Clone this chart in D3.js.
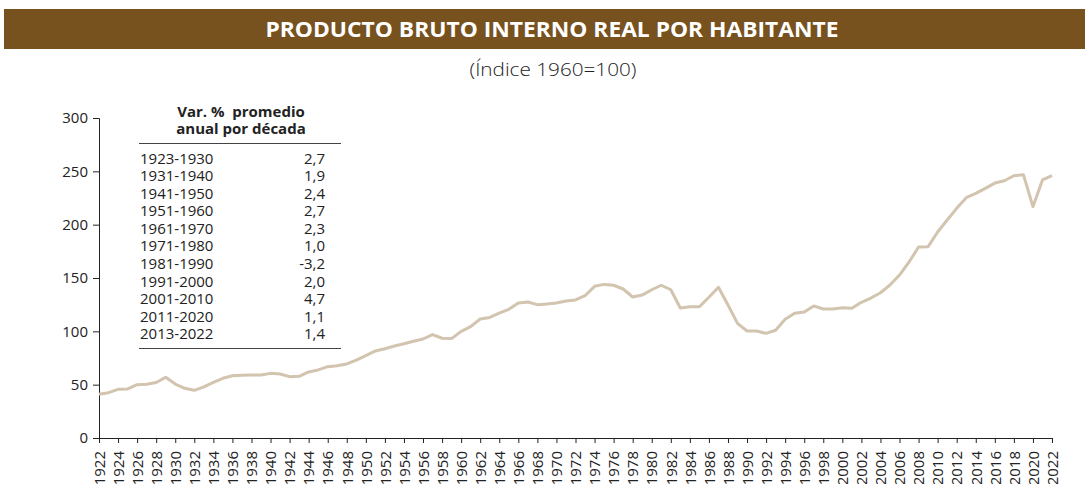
<!DOCTYPE html>
<html>
<head>
<meta charset="utf-8">
<script src="https://cdn.jsdelivr.net/npm/d3@7"></script>
<style>
  body { margin: 0; background: #fff; }
  svg { display: block; font-family: "Open Sans", "DejaVu Sans", sans-serif; }
</style>
</head>
<body>
<svg id="chart"></svg>
<script>
var years = d3.range(1922, 2023);
var values = [
  41, 42.5, 45.6, 46, 50, 50.3, 52, 57, 50.6,
  46.6, 44.7, 48, 52.2, 56, 58.4, 58.8, 59, 59, 60.6,
  60, 57.5, 57.8, 61.9, 63.8, 66.9, 67.8, 69.4, 73, 77.2,
  81.6, 83.7, 86.3, 88.4, 90.7, 92.8, 97, 93.5, 93.2, 100,
  104.4, 111.6, 113, 117, 120.6, 126.6, 127.5, 125, 125.6, 126.6,
  128.4, 129.4, 133.4, 142.2, 144, 143.2, 139.7, 132.2, 134, 139,
  143.2, 139, 121.9, 123.1, 123, 131.9, 141.3, 124.7, 107.5, 100.3,
  100.3, 98.1, 101, 111.3, 116.9, 118.1, 123.8, 120.9, 120.9, 122.2,
  121.6, 127.2, 131.2, 136.2, 143.4, 152.8, 165, 179, 179.4, 193.1,
  204.4, 215.3, 225.3, 229.4, 234, 239, 241.2, 245.9, 246.9, 216.9,
  241.9, 245.9
];
var periods = ["1923-1930", "1931-1940", "1941-1950", "1951-1960", "1961-1970",
  "1971-1980", "1981-1990", "1991-2000", "2001-2010", "2011-2020", "2013-2022"];
var rates = ["2,7", "1,9", "2,4", "2,7", "2,3", "1,0", "-3,2", "2,0", "4,7", "1,1", "1,4"];
var yTicks = [0, 50, 100, 150, 200, 250, 300];

var width = 1085, height = 484;
var svg = d3.select("#chart").attr("width", width).attr("height", height);

// title band
svg.append("rect")
  .attr("x", 4).attr("y", 9).attr("width", width - 4).attr("height", 40)
  .attr("fill", "#77521f");
svg.append("text")
  .attr("x", 552).attr("y", 37)
  .attr("text-anchor", "middle")
  .attr("fill", "#fff")
  .attr("textLength", 573).attr("lengthAdjust", "spacingAndGlyphs")
  .style("font-weight", "bold")
  .style("font-size", "21px")
  .text("PRODUCTO BRUTO INTERNO REAL POR HABITANTE");
svg.append("text")
  .attr("x", 553).attr("y", 76)
  .attr("text-anchor", "middle")
  .attr("fill", "#222")
  .attr("textLength", 167).attr("lengthAdjust", "spacingAndGlyphs")
  .style("font-weight", "300")
  .style("font-size", "19px")
  .text("(Índice 1960=100)");

var x = d3.scaleLinear().domain([1922, 2022]).range([99, 1052]);
var y = d3.scaleLinear().domain([0, 300]).range([438, 118]);

var yAxis = svg.append("g")
  .attr("transform", "translate(99,0)")
  .call(d3.axisLeft(y).tickValues(yTicks).tickSize(6).tickPadding(5));
var xAxis = svg.append("g")
  .attr("transform", "translate(0,438)")
  .call(d3.axisBottom(x).tickValues(years.filter(d => d % 2 === 0)).tickFormat(d3.format("d")).tickSize(5));

xAxis.selectAll("text")
  .attr("transform", "rotate(-90)")
  .attr("x", -13).attr("y", 0).attr("dy", "0.35em")
  .attr("text-anchor", "end");

[xAxis, yAxis].forEach(g => {
  g.select(".domain").attr("stroke", "#222");
  g.selectAll(".tick line").attr("stroke", "#222");
  g.selectAll("text").attr("fill", "#222").style("font-size", "15px")
    .style("font-family", "'Open Sans', sans-serif");
});

var line = d3.line()
  .x((d, i) => x(years[i]))
  .y(d => y(d));

svg.append("path")
  .datum(values)
  .attr("d", line)
  .attr("fill", "none")
  .attr("stroke", "#d2c4ae")
  .attr("stroke-width", 3)
  .attr("stroke-linejoin", "round");

// inset table
var table = svg.append("g").style("font-family", "'Open Sans', sans-serif").attr("fill", "#222");
table.append("text")
  .attr("x", 241).attr("y", 117)
  .attr("text-anchor", "middle")
  .style("font-weight", "bold").style("font-size", "15px")
  .style("white-space", "pre")
  .text("Var. %  promedio");
table.append("text")
  .attr("x", 241).attr("y", 134)
  .attr("text-anchor", "middle")
  .style("font-weight", "bold").style("font-size", "15px")
  .text("anual por década");
table.append("line")
  .attr("x1", 139).attr("x2", 341).attr("y1", 143.5).attr("y2", 143.5)
  .attr("stroke", "#444").attr("stroke-width", 1.2);
table.append("line")
  .attr("x1", 139).attr("x2", 341).attr("y1", 348.5).attr("y2", 348.5)
  .attr("stroke", "#444").attr("stroke-width", 1.2);

var rowY = d3.scaleLinear().domain([0, periods.length - 1]).range([158.3, 334]);
periods.forEach((p, i) => {
  table.append("text")
    .attr("x", 140).attr("y", rowY(i)).attr("dy", "0.35em")
    .style("font-size", "15px")
    .text(p);
  table.append("text")
    .attr("x", 325).attr("y", rowY(i)).attr("dy", "0.35em")
    .attr("text-anchor", "end")
    .style("font-size", "15px")
    .text(rates[i]);
});
</script>
</body>
</html>
